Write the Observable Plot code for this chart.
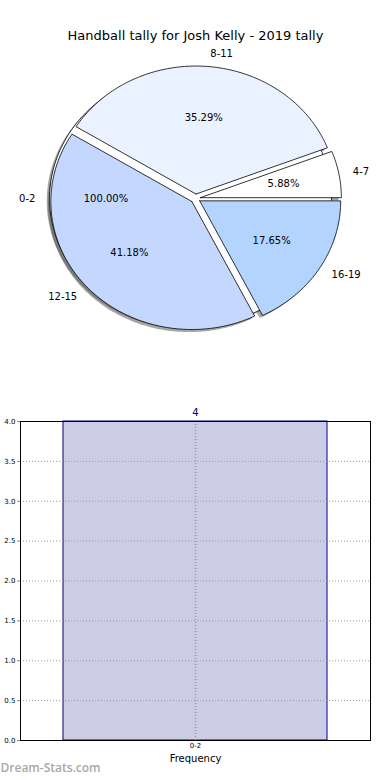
<!DOCTYPE html>
<html><head><meta charset="utf-8">
<script src="https://cdn.jsdelivr.net/npm/d3@7"></script>
<script src="https://cdn.jsdelivr.net/npm/@observablehq/plot@0.6"></script>
<style>body{margin:0;background:#fff} #c{width:390px} svg{display:block}</style>
</head><body><div id="c"></div>
<script>
const title = "Handball tally for Josh Kelly - 2019 tally";
// first pie (drawn underneath)
const pieACategories = ["0-2"];
const pieAValues = [4];
const pieAPct = ["100.00%"];
const pieAColors = ["#ffffff"];
// second pie (drawn on top)
const pieBCategories = ["4-7", "8-11", "12-15", "16-19"];
const pieBValues = [1, 6, 7, 3];
const pieBPct = ["5.88%", "35.29%", "41.18%", "17.65%"];
const pieBColors = ["#ffffff", "#ebf2ff", "#c4d8ff", "#b3d4ff"];
// bar chart
const barCategories = ["0-2"];
const barValues = [4];
const yTicks = [0, 0.5, 1, 1.5, 2, 2.5, 3, 3.5, 4];
const xLabel = "Frequency";
const watermark = "Dream-Stats.com";

const EXPLODE = 0.035, LABEL_D = 1.1, PCT_D = 0.6, SHADOW = [-0.02, -0.02];
const FONT = "DejaVu Sans, sans-serif";

function buildPie(cats, vals, pcts, colors, pie) {
  const total = d3.sum(vals);
  let start = 0;
  const wedges = [], labels = [];
  cats.forEach((c, i) => {
    const a0 = start, a1 = start + 360 * vals[i] / total;
    start = a1;
    const mid = (a0 + a1) / 2 * Math.PI / 180;
    const ox = EXPLODE * Math.cos(mid), oy = EXPLODE * Math.sin(mid);
    const full = (a1 - a0) >= 359.999;
    const pts = [];
    if (!full) pts.push([ox, oy]);
    const n = Math.max(2, Math.ceil(a1 - a0));
    for (let k = 0; k <= n; k++) {
      const a = (a0 + (a1 - a0) * k / n) * Math.PI / 180;
      pts.push([ox + Math.cos(a), oy + Math.sin(a)]);
    }
    if (!full) pts.push([ox, oy]);
    pts.forEach(([x, y]) => {
      wedges.push({key: pie + c, x, y, color: colors[i], shadow: false});
      wedges.push({key: pie + c + "s", x: x + SHADOW[0], y: y + SHADOW[1], color: colors[i], shadow: true});
    });
    labels.push({
      text: c, pct: pcts[i],
      lx: ox + LABEL_D * Math.cos(mid), ly: oy + LABEL_D * Math.sin(mid),
      px: ox + PCT_D * Math.cos(mid), py: oy + PCT_D * Math.sin(mid),
      right: Math.cos(mid) > 0
    });
  });
  return {wedges, labels};
}

const A = buildPie(pieACategories, pieAValues, pieAPct, pieAColors, "A");
const B = buildPie(pieBCategories, pieBValues, pieBPct, pieBColors, "B");
const shadows = A.wedges.concat(B.wedges).filter(d => d.shadow);
const labels = A.labels.concat(B.labels);

const RX = 141, RY = 128, CX = 195, CY = 198, W = 390, H1 = 380;

const pieChart = Plot.plot({
  width: W, height: H1, margin: 0,
  style: {fontFamily: FONT, background: "white"},
  x: {domain: [-CX / RX, (W - CX) / RX], axis: null},
  y: {domain: [(CY - H1) / RY, CY / RY], axis: null},
  marks: [
    Plot.line(shadows, {x: "x", y: "y", z: "key", fill: "#4d4d4d", fillOpacity: 0.5, stroke: "none"}),
    Plot.line(A.wedges.filter(d => !d.shadow), {x: "x", y: "y", z: "key", fill: "color", stroke: "black", strokeWidth: 0.8}),
    Plot.line(B.wedges.filter(d => !d.shadow), {x: "x", y: "y", z: "key", fill: "color", stroke: "black", strokeWidth: 0.8}),
    Plot.text(labels.filter(d => d.right), {x: "lx", y: "ly", text: "text", textAnchor: "start", fontSize: 10, fill: "black"}),
    Plot.text(labels.filter(d => !d.right), {x: "lx", y: "ly", text: "text", textAnchor: "end", fontSize: 10, fill: "black"}),
    Plot.text(labels, {x: "px", y: "py", text: "pct", textAnchor: "middle", fontSize: 10, fill: "black"}),
    Plot.text([title], {frameAnchor: "top", dy: 30, fontSize: 13, fill: "black"})
  ]
});

const barData = barCategories.map((c, i) => ({cat: c, v: barValues[i]}));
const barChart = Plot.plot({
  width: W, height: 400,
  marginLeft: 20, marginRight: 20, marginTop: 41, marginBottom: 40,
  style: {fontFamily: FONT, background: "white"},
  x: {domain: barCategories, padding: 0.14, label: null, axis: null},
  y: {domain: [0, 4], label: null, axis: null},
  marks: [
    Plot.barY(barData, {x: "cat", y: "v", fill: "#ccccE6", stroke: "#000080", strokeWidth: 1}),
    Plot.gridY(yTicks, {stroke: "#999", strokeOpacity: 1, strokeDasharray: "1,2"}),
    Plot.gridX(barCategories, {stroke: "#999", strokeOpacity: 1, strokeDasharray: "1,2", strokeWidth: 1.5}),
    Plot.frame({stroke: "black"}),
    Plot.axisY(yTicks, {tickSize: 3, tickPadding: 2, fontSize: 7, tickFormat: d3.format(".1f"), label: null, stroke: "#888", fill: "black"}),
    Plot.axisX(barCategories, {tickSize: 0, tickPadding: 3, fontSize: 7, label: null, fill: "black"}),
    Plot.text(barData, {x: "cat", y: "v", text: d => String(d.v), dy: -9, fill: "#000080", fontSize: 10}),
    Plot.text([xLabel], {frameAnchor: "bottom", dy: 21, fontSize: 10, fill: "black"}),
    Plot.text([watermark], {frameAnchor: "bottom-left", dx: -20, dy: 31, textAnchor: "start", fontSize: 12, fontFamily: "Open Sans, sans-serif", fontWeight: 600, fill: "#a8a8a8"})
  ]
});

const c = document.getElementById("c");
c.appendChild(pieChart);
c.appendChild(barChart);
</script>
</body></html>
